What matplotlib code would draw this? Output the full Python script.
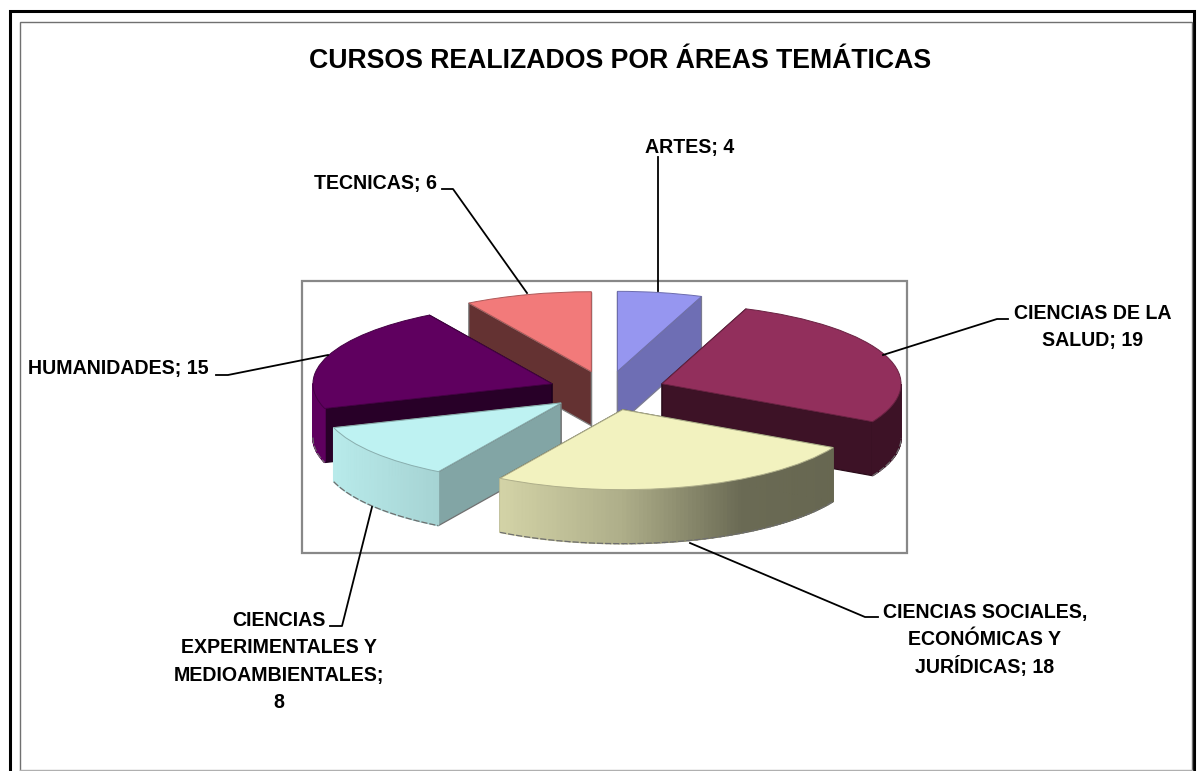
import numpy as np
import matplotlib
matplotlib.use("Agg")
import matplotlib.pyplot as plt
from matplotlib.patches import Polygon, Rectangle

# ---- data ----
categories = ["ARTES", "CIENCIAS DE LA SALUD", "CIENCIAS SOCIALES, ECONÓMICAS Y JURÍDICAS",
              "CIENCIAS EXPERIMENTALES Y MEDIOAMBIENTALES", "HUMANIDADES", "TECNICAS"]
values = [4, 19, 18, 8, 15, 6]
title = "CURSOS REALIZADOS POR ÁREAS TEMÁTICAS"

# ---- style ----
top_colors = ["#9696F0", "#922F5C", "#F2F2BF", "#BEF2F2", "#5F005F", "#F27A7A"]
cut_colors = ["#6E6EB4", "#3D1226", "#6A6A50", "#82A5A5", "#280028", "#643232"]
cut_edges = ["#7A7A90", "#2A0C1A", "#55553F", "#707070", "#1C001C", "#808080"]
draw_order = [5, 0, 1, 4, 3, 2]
explode = 0.246
depth = 0.675
W, H = 1200, 771
CX, CY, RX, RY = 607, 390.7, 239, 80
plt.rcParams["font.family"] = ["Liberation Sans", "DejaVu Sans"]

fig = plt.figure(figsize=(12, 7.71), dpi=100, facecolor="white")
ax = fig.add_axes([0, 0, 1, 1], zorder=2)
wedges, _ = ax.pie(values, startangle=90, counterclock=False, explode=[explode] * len(values),
                   colors=top_colors, radius=1)
ax.set_aspect("auto")
ax.set_xlim(-CX / RX, (W - CX) / RX)
ax.set_ylim((CY - H) / RY, CY / RY)
ax.axis("off")


def rim_factor(c):
    return np.interp(c, [-1, -0.5, 0, 0.5, 1], [0.98, 0.87, 0.72, 0.44, 0.42])


def shade(color, f):
    return tuple(np.array(matplotlib.colors.to_rgb(color)) * f)


z = 1
for i in draw_order:
    w = wedges[i]
    cx, cy = w.center
    r = w.r
    t1, t2 = w.theta1, w.theta2
    # cut faces: the one further back first, so the front one covers it
    for t in sorted((t1, t2), key=lambda d: -np.sin(np.radians(d))):
        a = np.radians(t)
        ex, ey = cx + r * np.cos(a), cy + r * np.sin(a)
        ax.add_patch(Polygon([(cx, cy), (ex, ey), (ex, ey - depth), (cx, cy - depth)],
                             closed=True, fc=cut_colors[i], ec=cut_edges[i],
                             lw=0.9, zorder=z))
        z += 1
    # outer rim, only where it faces the viewer
    ts = np.arange(t1, t2 + 1.0, 1.0)
    ts[-1] = min(ts[-1], t2)
    bx, by = [], []
    for a0, a1 in zip(ts[:-1], ts[1:]):
        am = np.radians((a0 + a1) / 2)
        if np.sin(am) > 0.0:
            continue
        p0 = np.radians(a0)
        p1 = np.radians(a1)
        col = shade(top_colors[i], rim_factor(np.cos(am)))
        if i == 4:
            col = top_colors[i]
        if i == 1:
            col = cut_colors[i]
        ax.add_patch(Polygon([(cx + r * np.cos(p0), cy + r * np.sin(p0)),
                              (cx + r * np.cos(p1), cy + r * np.sin(p1)),
                              (cx + r * np.cos(p1), cy + r * np.sin(p1) - depth),
                              (cx + r * np.cos(p0), cy + r * np.sin(p0) - depth)],
                             closed=True, fc=col, ec=col, lw=1.1, zorder=z))
        bx += [cx + r * np.cos(p0), cx + r * np.cos(p1)]
        by += [cy + r * np.sin(p0) - depth, cy + r * np.sin(p1) - depth]
    z += 1
    if bx:
        ax.plot(bx, by, color="#6E6E6E", lw=0.9, zorder=z, ls=(0, (5, 1.5)))
    z += 1
    w.set_zorder(z)
    w.set_edgecolor(shade(top_colors[i], 0.72))
    w.set_linewidth(0.7)
    z += 1

# ---- overlay in pixel space: frames, title, labels and leader lines ----
ov = fig.add_axes([0, 0, 1, 1], zorder=3)
ov.set_xlim(0, W)
ov.set_ylim(H, 0)
ov.axis("off")
ov.patch.set_alpha(0)

ov.plot([9.5, 9.5, 1194, 1194], [H, 11.3, 11.3, H], color="black", lw=2.2, solid_joinstyle="miter")
ov.plot([19.7, 19.7, 1192, 1192], [H, 22, 22, H], color="#707070", lw=1.0, solid_joinstyle="miter")
ov.plot([20, 1192], [770, 770], color="#B0B0B0", lw=1.0)
ov.add_patch(Rectangle((302, 281), 605, 272, fc="none", ec="#888888", lw=1.6))

ov.text(620, 68, title, ha="center", va="baseline", fontsize=19.2, fontweight="bold")

leaders = [
    ([658, 658], [157, 291]),
    ([442, 453, 527], [189, 189, 293]),
    ([883, 997, 1008], [355, 319, 319]),
    ([216, 228, 328], [375, 375, 355]),
    ([690, 865, 878], [543, 617, 617]),
    ([372, 342, 330], [507, 626, 626]),
]
for xs, ys in leaders:
    ov.plot(xs, ys, color="black", lw=1.3)

label_x = [690, 376, 1093, 118, 985, 279]
label_base = [153, 189, 319, 374, 618, 626]
label_lines = [
    ["ARTES; 4"],
    ["TECNICAS; 6"],
    ["CIENCIAS DE LA", "SALUD; 19"],
    ["HUMANIDADES; 15"],
    ["CIENCIAS SOCIALES,", "ECONÓMICAS Y", "JURÍDICAS; 18"],
    ["CIENCIAS", "EXPERIMENTALES Y", "MEDIOAMBIENTALES;", "8"],
]
line_pitch = 27.4
for x, y, lines in zip(label_x, label_base, label_lines):
    for k, s in enumerate(lines):
        ov.text(x, y + k * line_pitch, s, ha="center", va="baseline", fontsize=14.1,
                fontweight="bold", color="black")

fig.savefig("out.png", dpi=100)
